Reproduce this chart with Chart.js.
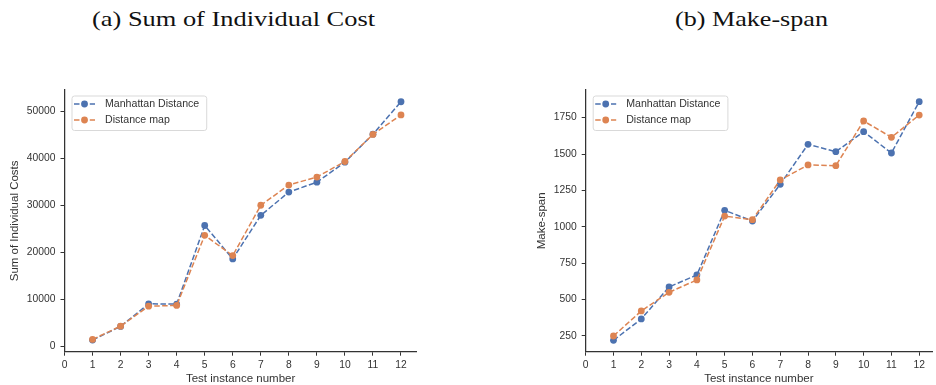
<!DOCTYPE html>
<html>
<head>
<meta charset="utf-8">
<script src="https://cdn.jsdelivr.net/npm/chart.js@4.4.1/dist/chart.umd.min.js"></script>
<style>
  html, body { margin: 0; padding: 0; background: #fff; }
  #page { position: relative; width: 936px; height: 385px; overflow: hidden; }
  .panel { position: absolute; top: 0; width: 468px; height: 385px; }
  .title {
    position: absolute; top: 7px; white-space: nowrap;
    font-family: "Liberation Serif", "DejaVu Serif", serif;
    font-size: 22px; line-height: 24px; color: #111;
    transform-origin: 0 0;
  }
</style>
</head>
<body>
<div id="page">
  <div class="title" id="titleA" data-center="233.3" data-width="283">(a) Sum of Individual Cost</div>
  <div class="title" id="titleB" data-center="751.7" data-width="153">(b) Make-span</div>
  <div class="panel" style="left:0"><canvas id="costChart"></canvas></div>
  <div class="panel" style="left:468px"><canvas id="spanChart"></canvas></div>
</div>
<script>
// ---- data ----
const instances = [1, 2, 3, 4, 5, 6, 7, 8, 9, 10, 11, 12];
const seriesNames = ['Manhattan Distance', 'Distance map'];

const costManhattan = [1350, 4250, 9050, 8980, 25700, 18600, 27850, 32800, 34900, 39150, 45100, 52000];
const costDistMap   = [1480, 4300, 8550, 8700, 23600, 19300, 30000, 34300, 36000, 39300, 45050, 49200];

const spanManhattan = [220, 367, 587, 669, 1113, 1040, 1292, 1567, 1516, 1654, 1507, 1860];
const spanDistMap   = [250, 422, 550, 635, 1074, 1049, 1322, 1425, 1420, 1727, 1615, 1768];

const xTicks = [0, 1, 2, 3, 4, 5, 6, 7, 8, 9, 10, 11, 12];
const costTicks = [0, 10000, 20000, 30000, 40000, 50000];
const spanTicks = [250, 500, 750, 1000, 1250, 1500, 1750];

const BLUE = '#4C72B0';
const ORANGE = '#DD8452';
const INK = '#333333';
const SANS = '"Liberation Sans", Arial, sans-serif';

// stretch the serif titles to the width of the originals (Computer Modern is wider)
document.querySelectorAll('.title').forEach(function(el) {
    const target = parseFloat(el.dataset.width);
    const w = el.getBoundingClientRect().width;
    const k = target / w;
    el.style.left = (parseFloat(el.dataset.center) - target / 2) + 'px';
    el.style.transform = 'scaleX(' + k + ')';
});

// legend drawn inside the plot area, matplotlib style
const boxLegend = {
    id: 'boxLegend',
    afterDraw(chart) {
        const ctx = chart.ctx;
        const area = chart.chartArea;
        const x0 = area.left + 7;
        const y0 = area.top + 5.5;
        ctx.save();
        ctx.font = '10.6px ' + SANS;
        let tw = 0;
        chart.data.datasets.forEach(ds => { tw = Math.max(tw, ctx.measureText(ds.label).width); });
        const w = 33.5 + tw + 7;
        const h = 34.5;
        ctx.fillStyle = 'rgba(255,255,255,0.8)';
        ctx.strokeStyle = '#d9d9d9';
        ctx.lineWidth = 1;
        ctx.beginPath();
        ctx.roundRect(x0 + 0.5, y0 + 0.5, w, h, 2.5);
        ctx.fill();
        ctx.stroke();
        chart.data.datasets.forEach((ds, i) => {
            const cy = y0 + 8.5 + i * 16;
            ctx.strokeStyle = ds.borderColor;
            ctx.lineWidth = 1.5;
            ctx.setLineDash([5.5, 2.4]);
            ctx.beginPath();
            ctx.moveTo(x0 + 2.5, cy);
            ctx.lineTo(x0 + 23.5, cy);
            ctx.stroke();
            ctx.setLineDash([]);
            ctx.fillStyle = ds.borderColor;
            ctx.beginPath();
            ctx.arc(x0 + 13, cy, 3.4, 0, Math.PI * 2);
            ctx.fill();
            ctx.fillStyle = INK;
            ctx.textBaseline = 'middle';
            ctx.fillText(ds.label, x0 + 33.5, cy);
        });
        ctx.restore();
    }
};

function makeSet(label, values, color, order) {
    return {
        label: label,
        data: instances.map((x, i) => ({ x: x, y: values[i] })),
        borderColor: color,
        backgroundColor: color,
        borderWidth: 1.5,
        borderDash: [5.5, 2.4],
        pointRadius: 3.4,
        pointBorderWidth: 0,
        pointBackgroundColor: color,
        tension: 0,
        order: order
    };
}

function axisStyle() {
    return {
        grid: { display: true, drawOnChartArea: false, drawTicks: true, tickLength: 4, color: INK, tickWidth: 1 },
        border: { display: true, color: INK, width: 1.25 },
        ticks: { color: INK, font: { family: SANS, size: 10.3 } }
    };
}

function buildChart(canvasId, set1, set2, opts) {
    const xAxis = axisStyle();
    xAxis.type = 'linear';
    xAxis.min = 0;
    xAxis.max = opts.xMax;
    xAxis.ticks.padding = 3;
    xAxis.ticks.maxRotation = 0;
    xAxis.ticks.callback = v => String(v);
    xAxis.afterBuildTicks = scale => { scale.ticks = xTicks.map(v => ({ value: v })); };
    xAxis.afterFit = scale => { scale.height = 33.3; };
    xAxis.title = {
        display: true, text: 'Test instance number', color: INK,
        font: { family: SANS, size: 11.5, lineHeight: 1 },
        padding: { top: 0, bottom: 0 }
    };

    const yAxis = axisStyle();
    yAxis.min = opts.yMin;
    yAxis.max = opts.yMax;
    yAxis.ticks.padding = 5;
    yAxis.ticks.callback = v => String(v);
    yAxis.afterBuildTicks = scale => { scale.ticks = opts.yTicks.map(v => ({ value: v })); };
    yAxis.afterFit = scale => { scale.width = opts.yWidth; };
    yAxis.title = {
        display: true, text: opts.yTitle, color: INK,
        font: { family: SANS, size: 11.5 },
        padding: { top: opts.yTitlePad, bottom: 0 }
    };

    return new Chart(document.getElementById(canvasId), {
        type: 'line',
        data: {
            datasets: [
                makeSet(seriesNames[0], set1, BLUE, 1),
                makeSet(seriesNames[1], set2, ORANGE, 0)
            ]
        },
        options: {
            responsive: true,
            maintainAspectRatio: false,
            animation: false,
            layout: { padding: { top: 90, right: opts.padRight, left: 0, bottom: 0 } },
            plugins: { legend: { display: false }, tooltip: { enabled: false } },
            scales: { x: xAxis, y: yAxis }
        },
        plugins: [boxLegend]
    });
}

buildChart('costChart', costManhattan, costDistMap, {
    xMax: 12.56, yMin: -1130, yMax: 54500, yTicks: costTicks,
    yWidth: 64.5, yTitle: 'Sum of Individual Costs', yTitlePad: 8.1, padRight: 51.3
});

buildChart('spanChart', spanManhattan, spanDistMap, {
    xMax: 12.46, yMin: 142, yMax: 1940, yTicks: spanTicks,
    yWidth: 117.7, yTitle: 'Make-span', yTitlePad: 66.8, padRight: 0
});
</script>
</body>
</html>
